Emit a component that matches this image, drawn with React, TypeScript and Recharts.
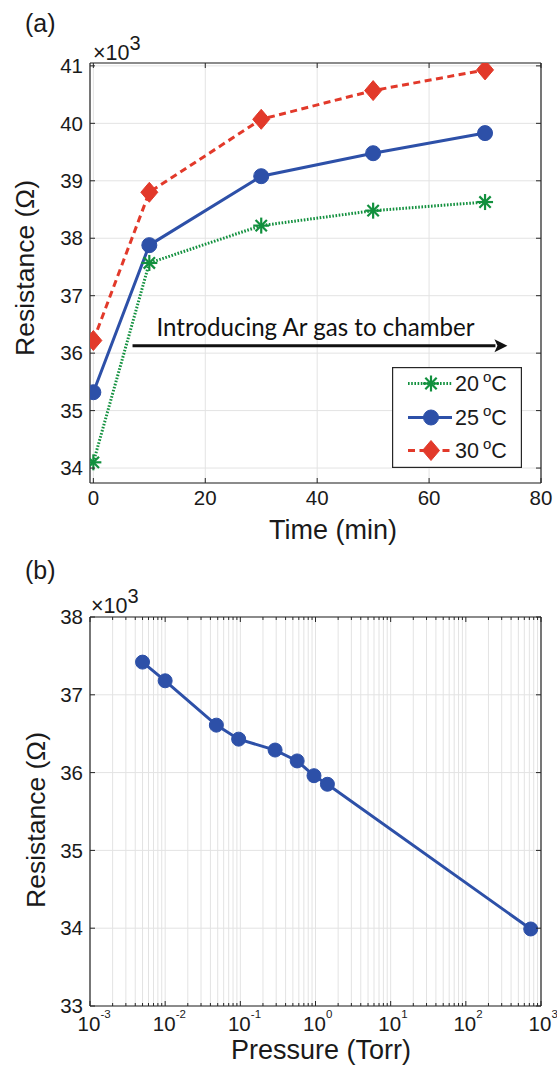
import React from 'react';
import { LineChart, Line, XAxis, YAxis, CartesianGrid, ReferenceLine, Legend } from 'recharts';

const FONT = '"Liberation Sans", Arial, Helvetica, sans-serif';
const AX = '#262626';
const TXT = '#1a1a1a';
const GRID = '#e3e3e3';
const GREEN = '#12903e';
const BLUE = '#2d50a8';
const RED = '#e2392a';

// ---------- Panel (a) data ----------
const timeMin = [0, 10, 30, 50, 70];
const res20C = [34100, 37570, 38220, 38480, 38630];
const res25C = [35320, 37880, 39080, 39480, 39830];
const res30C = [36220, 38800, 40070, 40570, 40930];
const timeTicks = [0, 20, 40, 60, 80];
const resTicksA = [34000, 35000, 36000, 37000, 38000, 39000, 40000, 41000];
const tempLabels = ['20', '25', '30'];
const arrowTimes = [7, 74];
const arrowRes = 36127;
const arrowText = 'Introducing Ar gas to chamber';

// ---------- Panel (b) data ----------
const pressureTorr = [0.005, 0.01, 0.048, 0.095, 0.29, 0.57, 0.955, 1.44, 730];
const resPressure = [37420, 37180, 36610, 36430, 36290, 36150, 35960, 35850, 33990];
const pressureDecades = [-3, -2, -1, 0, 1, 2, 3];
const minorMultipliers = [1, 2, 3, 4, 5, 6, 7, 8, 9];
const resTicksB = [33000, 34000, 35000, 36000, 37000, 38000];

const dataA = timeMin.map((t, i) => ({ t, r20: res20C[i], r25: res25C[i], r30: res30C[i] }));
const dataB = pressureTorr.map((p, i) => ({ p, r: resPressure[i] }));

const logTicks: number[] = [];
pressureDecades.forEach((k) => {
  const ms = k === pressureDecades[pressureDecades.length - 1] ? [1] : minorMultipliers;
  ms.forEach((m) => logTicks.push(Number((m * Math.pow(10, k)).toPrecision(2))));
});

// ---------- markers ----------
const Star = ({ cx, cy, color, r = 8 }: any) => {
  const d = r * Math.SQRT1_2;
  return (
    <g stroke={color} strokeWidth={2.2} strokeLinecap="butt">
      <line x1={cx - r} y1={cy} x2={cx + r} y2={cy} />
      <line x1={cx} y1={cy - r} x2={cx} y2={cy + r} />
      <line x1={cx - d} y1={cy - d} x2={cx + d} y2={cy + d} />
      <line x1={cx - d} y1={cy + d} x2={cx + d} y2={cy - d} />
    </g>
  );
};
const Circle = ({ cx, cy, color, r = 7.5 }: any) => <circle cx={cx} cy={cy} r={r} fill={color} stroke={color} strokeWidth={1} />;
const Diamond = ({ cx, cy, color, w = 8.5, h = 10 }: any) => (
  <polygon points={`${cx},${cy - h} ${cx + w},${cy} ${cx},${cy + h} ${cx - w},${cy}`} fill={color} stroke={color} strokeWidth={1} />
);

const seriesA = [
  { key: 'r20', label: tempLabels[0], color: GREEN, dash: '1.6 1.6', Marker: Star },
  { key: 'r25', label: tempLabels[1], color: BLUE, dash: undefined, Marker: Circle },
  { key: 'r30', label: tempLabels[2], color: RED, dash: '7 4.5', Marker: Diamond },
];

// ---------- ticks (inward, MATLAB style) ----------
const fmtK = (v: number) => String(Math.round(v / 1000));
const TICK_FS = 20.5;

const BottomTick = (props: any) => {
  const { x, y, payload } = props;
  return (
    <g>
      <line x1={x} y1={y} x2={x} y2={y - 5} stroke={AX} strokeWidth={1} />
      <text x={x} y={y + 21.5} textAnchor="middle" fontFamily={FONT} fontSize={TICK_FS} fill={TXT}>
        {payload.value}
      </text>
    </g>
  );
};
const TopTick = (props: any) => {
  const { x, y } = props;
  return <line x1={x} y1={y} x2={x} y2={y + 5} stroke={AX} strokeWidth={1} />;
};
const LeftTick = (props: any) => {
  const { x, y, payload } = props;
  return (
    <g>
      <line x1={x} y1={y} x2={x + 5} y2={y} stroke={AX} strokeWidth={1} />
      <text x={x - 7} y={y + 7.2} textAnchor="end" fontFamily={FONT} fontSize={TICK_FS} fill={TXT}>
        {fmtK(payload.value)}
      </text>
    </g>
  );
};
const RightTick = (props: any) => {
  const { x, y } = props;
  return <line x1={x} y1={y} x2={x - 5} y2={y} stroke={AX} strokeWidth={1} />;
};
const isMajor = (v: number) => Math.abs(Math.log10(v) - Math.round(Math.log10(v))) < 1e-6;
const LogBottomTick = (props: any) => {
  const { x, y, payload } = props;
  const v = payload.value as number;
  const major = isMajor(v);
  return (
    <g>
      <line x1={x} y1={y} x2={x} y2={y - (major ? 5 : 3)} stroke={AX} strokeWidth={1} />
      {major && (
        <g fontFamily={FONT} fill={TXT}>
          <text x={x - 1} y={y + 24.5} textAnchor="middle" fontSize={TICK_FS}>10</text>
          <text x={x + 10.5} y={y + 12} textAnchor="start" fontSize={11.5}>{String(Math.round(Math.log10(v)))}</text>
        </g>
      )}
    </g>
  );
};
const LogTopTick = (props: any) => {
  const { x, y, payload } = props;
  const major = isMajor(payload.value);
  return <line x1={x} y1={y} x2={x} y2={y + (major ? 5 : 3)} stroke={AX} strokeWidth={1} />;
};

// ---------- arrow ----------
const ArrowShape = (props: any) => {
  const { x1, y1, x2, y2 } = props;
  const head = 13;
  const half = 6.5;
  return (
    <g>
      <line x1={x1} y1={y1} x2={x2 - head + 1} y2={y2} stroke="#111" strokeWidth={3} />
      <polygon points={`${x2},${y2} ${x2 - head},${y2 - half} ${x2 - head + 3},${y2} ${x2 - head},${y2 + half}`} fill="#111" />
      <text x={x1 + 24} y={y1 - 10} fontFamily="Lato, 'Open Sans', sans-serif" fontSize={24.5} fill="#111" textLength={318} lengthAdjust="spacingAndGlyphs">
        {arrowText}
      </text>
    </g>
  );
};

// ---------- legend ----------
const LegendBox = () => {
  const rows = [16.5, 50.5, 83.5];
  return (
    <svg width={130} height={101} style={{ display: 'block' }}>
      <rect x={0.6} y={0.6} width={128.8} height={99.8} fill="#fff" stroke={AX} strokeWidth={1.2} />
      {seriesA.map((s, i) => {
        const cy = rows[i];
        const M = s.Marker;
        return (
          <g key={s.key}>
            <line x1={16} y1={cy} x2={60} y2={cy} stroke={s.color} strokeWidth={3} strokeDasharray={s.dash} />
            <M cx={39} cy={cy} color={s.color} />
            <text x={63} y={cy + 7.5} fontFamily={FONT} fontSize={21.5} fill={TXT}>
              {s.label}
              <tspan dx={4} dy={-9} fontSize={15}>o</tspan>
              <tspan dy={9} fontSize={21.5}>C</tspan>
            </text>
          </g>
        );
      })}
    </svg>
  );
};

const axisLine = { stroke: AX, strokeWidth: 1.2 };

export default function App() {
  return (
    <div style={{ position: 'absolute', left: 0, top: 0, width: 557, height: 1067, background: '#fff', overflow: 'hidden' }}>
      {/* Panel (a) */}
      <div style={{ position: 'absolute', left: 0, top: 0 }}>
        <LineChart width={557} height={545} data={dataA} margin={{ top: 62, right: 15, bottom: 0, left: 0 }}>
          <CartesianGrid stroke={GRID} strokeWidth={1} />
          <XAxis dataKey="t" type="number" domain={[-0.6, 80]} ticks={timeTicks} interval={0} allowDataOverflow
            height={62} tickLine={false} tickSize={0} tickMargin={0} axisLine={axisLine} tick={<BottomTick />} />
          <XAxis xAxisId="top" orientation="top" dataKey="t" type="number" domain={[-0.6, 80]} ticks={timeTicks} interval={0} allowDataOverflow
            height={1} tickLine={false} tickSize={0} tickMargin={0} axisLine={axisLine} tick={<TopTick />} />
          <YAxis type="number" domain={[33740, 41050]} ticks={resTicksA} interval={0} allowDataOverflow
            width={90} tickLine={false} tickSize={0} tickMargin={0} axisLine={axisLine} tick={<LeftTick />} />
          <YAxis yAxisId="right" orientation="right" type="number" domain={[33740, 41050]} ticks={resTicksA} interval={0} allowDataOverflow
            width={1} tickLine={false} tickSize={0} tickMargin={0} axisLine={axisLine} tick={<RightTick />} />
          <ReferenceLine segment={[{ x: arrowTimes[0], y: arrowRes }, { x: arrowTimes[1], y: arrowRes }]} shape={ArrowShape} />
          {seriesA.map((s) => (
            <Line key={s.key} dataKey={s.key} type="linear" stroke={s.color} strokeWidth={3} strokeDasharray={s.dash}
              isAnimationActive={false}
              dot={(p: any) => <s.Marker key={`${s.key}-${p.index}`} cx={p.cx} cy={p.cy} color={s.color} />}
              activeDot={false} />
          ))}
          <Legend layout="horizontal" verticalAlign="middle" align="center"
            wrapperStyle={{ position: 'absolute', left: 392, top: 367, width: 130, height: 101 }}
            content={() => <LegendBox />} />
        </LineChart>
      </div>

      {/* Panel (b) */}
      <div style={{ position: 'absolute', left: 0, top: 545 }}>
        <LineChart width={557} height={522} data={dataB} margin={{ top: 71, right: 15, bottom: 0, left: 0 }}>
          <CartesianGrid stroke={GRID} strokeWidth={1} />
          <XAxis dataKey="p" type="number" scale="log" domain={[0.001, 1000]} ticks={logTicks} interval={0} allowDataOverflow
            height={61} tickLine={false} tickSize={0} tickMargin={0} axisLine={axisLine} tick={<LogBottomTick />} />
          <XAxis xAxisId="top" orientation="top" dataKey="p" type="number" scale="log" domain={[0.001, 1000]} ticks={logTicks} interval={0} allowDataOverflow
            height={1} tickLine={false} tickSize={0} tickMargin={0} axisLine={axisLine} tick={<LogTopTick />} />
          <YAxis type="number" domain={[33000, 38000]} ticks={resTicksB} interval={0} allowDataOverflow
            width={90} tickLine={false} tickSize={0} tickMargin={0} axisLine={axisLine} tick={<LeftTick />} />
          <YAxis yAxisId="right" orientation="right" type="number" domain={[33000, 38000]} ticks={resTicksB} interval={0} allowDataOverflow
            width={1} tickLine={false} tickSize={0} tickMargin={0} axisLine={axisLine} tick={<RightTick />} />
          <Line dataKey="r" type="linear" stroke={BLUE} strokeWidth={3} isAnimationActive={false}
            dot={(p: any) => <Circle key={`b-${p.index}`} cx={p.cx} cy={p.cy} color={BLUE} r={7} />} activeDot={false} />
        </LineChart>
      </div>

      {/* text annotations */}
      <svg width={557} height={1067} style={{ position: 'absolute', left: 0, top: 0, pointerEvents: 'none' }}>
        <g fontFamily={FONT} fill={TXT}>
          <text x={25} y={32} fontSize={25}>(a)</text>
          <text x={93} y={60} fontSize={21.5}>×10<tspan dy={-10} fontSize={20}>3</tspan></text>
          <text x={34} y={268} fontSize={26.5} textAnchor="middle" transform="rotate(-90 34 268)">Resistance (Ω)</text>
          <text x={333} y={539} fontSize={27} textAnchor="middle">Time (min)</text>

          <text x={25} y={579} fontSize={25}>(b)</text>
          <text x={91} y={613} fontSize={21.5}>×10<tspan dy={-10} fontSize={20}>3</tspan></text>
          <text x={45} y={820} fontSize={26.5} textAnchor="middle" transform="rotate(-90 45 820)">Resistance (Ω)</text>
          <text x={321} y={1059} fontSize={27} textAnchor="middle">Pressure (Torr)</text>
        </g>
      </svg>
    </div>
  );
}
